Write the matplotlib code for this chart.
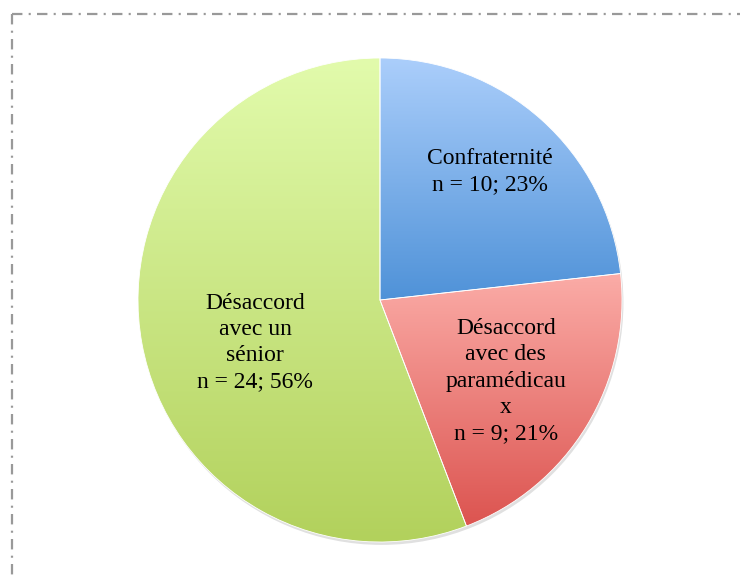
#!/usr/bin/env python3
# Pie chart of disagreement causes, with Excel-like vertical gradient fills.

import matplotlib
matplotlib.use("Agg")
import matplotlib.pyplot as plt
import numpy as np
from matplotlib.colors import LinearSegmentedColormap
from matplotlib.lines import Line2D

# Data
labels = [
    "Confraternité\nn = 10; 23%",
    "Désaccord\navec des\nparamédicau\nx\nn = 9; 21%",
    "Désaccord\navec un\nsénior\nn = 24; 56%",
]
counts = [10, 9, 24]

# Gradient colours (top, bottom) for each slice
top_colors = ["#abcefb", "#fbaca7", "#e2fbac"]
bottom_colors = ["#4f92d8", "#dc5450", "#b2d15c"]

# Label positions in pie radius units (x, y from centre)
label_pos = [(0.455, 0.53), (0.52, -0.335), (-0.515, -0.175)]

plt.rcParams["lines.scale_dashes"] = False
plt.rcParams["font.family"] = ["Liberation Serif", "DejaVu Serif"]

W, H = 740, 575
fig = plt.figure(figsize=(W / 100, H / 100), dpi=100)

# Dash-dot frame, only top and left edges visible
frame_style = dict(color="#999999", lw=1.6, dashes=(7.5, 4.5, 1.5, 4.5))
fig.add_artist(Line2D([12 / W, 1.0], [1 - 14 / H, 1 - 14 / H],
                      transform=fig.transFigure, **frame_style))
fig.add_artist(Line2D([12 / W, 12 / W], [1 - 14 / H, 0.0],
                      transform=fig.transFigure, **frame_style))

# Pie axes: centre (380, 300) px, radius 242 px
cx, cy, r = 380, 300, 242
ax = fig.add_axes([(cx - r) / W, (H - cy - r) / H, 2 * r / W, 2 * r / H])

# soft shadow under the pie
shadow = plt.Circle((0.006, -0.012), 1.0, color="#000000", alpha=0.12, lw=0, zorder=0)
shadow.set_clip_on(False)
ax.add_patch(shadow)

wedges, _ = ax.pie(counts, startangle=90, counterclock=False, radius=1.0,
                   wedgeprops=dict(edgecolor="white", linewidth=0.6))

grad = np.linspace(0, 1, 256).reshape(-1, 1)
for w, c0, c1 in zip(wedges, top_colors, bottom_colors):
    w.set_facecolor("none")
    w.set_zorder(3)
    ext = w.get_path().get_extents()
    cmap = LinearSegmentedColormap.from_list("g", [c0, c1])
    img = ax.imshow(grad, cmap=cmap, aspect="auto", origin="upper",
                    extent=[ext.x0, ext.x1, ext.y0, ext.y1], zorder=2)
    img.set_clip_path(w)

for (x, y), txt in zip(label_pos, labels):
    ax.text(x, y, txt, ha="center", va="center", fontsize=17,
            linespacing=1.32, zorder=5)

ax.set_xlim(-1.0, 1.0)
ax.set_ylim(-1.0, 1.0)
ax.set_aspect("equal")
ax.axis("off")

fig.savefig("out.png", dpi=100)
